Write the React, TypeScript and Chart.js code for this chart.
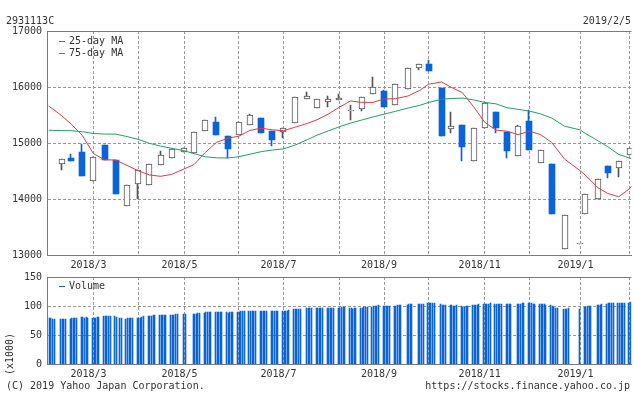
import React, { useEffect, useRef } from 'react';
import { Chart, registerables } from 'chart.js';

Chart.register(...registerables);

// ---------------- data ----------------
const symbol = '2931113C';
const asOf = '2019/2/5';

// first trading day of each weekly candle
const weekDates = [
  '2018-02-13', '2018-02-19', '2018-02-26', '2018-03-05', '2018-03-12', '2018-03-19', '2018-03-26',
  '2018-04-02', '2018-04-09', '2018-04-16', '2018-04-23', '2018-05-01', '2018-05-07', '2018-05-14',
  '2018-05-21', '2018-05-28', '2018-06-04', '2018-06-11', '2018-06-18', '2018-06-25', '2018-07-02',
  '2018-07-09', '2018-07-17', '2018-07-23', '2018-07-30', '2018-08-06', '2018-08-13', '2018-08-20',
  '2018-08-27', '2018-09-03', '2018-09-10', '2018-09-18', '2018-09-25', '2018-10-01', '2018-10-09',
  '2018-10-15', '2018-10-22', '2018-10-29', '2018-11-05', '2018-11-12', '2018-11-19', '2018-11-26',
  '2018-12-03', '2018-12-10', '2018-12-17', '2018-12-25', '2019-01-04', '2019-01-07', '2019-01-15',
  '2019-01-21', '2019-01-28', '2019-02-04',
];
const opens = [
  14620, 14730, 14840, 14315, 14965, 14695, 13870, 14260, 14245, 14600, 14730, 14840, 14820, 15210,
  15375, 15125, 15150, 15315, 15445, 15215, 15190, 15365, 15780, 15620, 15730, 15760, 15570, 15600,
  15870, 15925, 15675, 15960, 16340, 16415, 15980, 15245, 15320, 14675, 15260, 15555, 15195, 14760,
  15395, 14635, 14625, 13100, 13196, 13725, 13995, 14585, 14550, 14780,
];
const highs = [
  14715, 14805, 14980, 14745, 14965, 14695, 14250, 14510, 14620, 14865, 14895, 14905, 15190, 15405,
  15465, 15125, 15375, 15520, 15445, 15215, 15260, 15815, 15915, 15780, 15840, 15875, 15675, 15815,
  16175, 15945, 16050, 16335, 16405, 16480, 15980, 15555, 15320, 15260, 15710, 15555, 15195, 15315,
  15585, 14875, 14625, 13715, 13196, 14085, 14350, 14585, 14675, 14905,
];
const lows = [
  14525, 14685, 14415, 14315, 14690, 14095, 13870, 14000, 14245, 14600, 14730, 14840, 14820, 15210,
  15150, 14725, 15150, 15315, 15185, 14945, 15095, 15365, 15780, 15620, 15650, 15760, 15415, 15575,
  15870, 15650, 15675, 15960, 16300, 16290, 15130, 15185, 14685, 14675, 15260, 15175, 14730, 14760,
  14880, 14635, 13740, 13100, 13196, 13725, 13995, 14380, 14400, 14780,
];
const closes = [
  14715, 14685, 14415, 14745, 14700, 14095, 14250, 14510, 14620, 14780, 14895, 14905, 15190, 15405,
  15150, 14900, 15375, 15500, 15185, 15060, 15260, 15815, 15835, 15780, 15780, 15800, 15590, 15815,
  15995, 15650, 16050, 16335, 16405, 16290, 15130, 15300, 14935, 15260, 15710, 15260, 14860, 15300,
  14880, 14875, 13740, 13715, 13196, 14085, 14350, 14460, 14675, 14905,
];

// moving averages read at the start, at each weekly candle, and at the end
const maDates = ['2018-02-05', ...weekDates, '2019-02-05'];
const ma25 = [
  15660, 15490, 15340, 15135, 14810, 14700, 14696, 14600, 14505, 14430, 14405, 14440, 14540, 14615,
  14830, 15010, 15085, 15120, 15225, 15265, 15235, 15220, 15280, 15350, 15415, 15515, 15640, 15750,
  15725, 15725, 15786, 15790, 15840, 15935, 16050, 16090, 15995, 15900, 15650, 15370, 15230, 15210,
  15150, 15212, 15150, 15010, 14714, 14500, 14425, 14200, 14100, 14040, 14190, 14230,
];
const ma75 = [
  15228, 15222, 15220, 15202, 15170, 15160, 15158, 15115, 15065, 14995, 14945, 14905, 14860, 14810,
  14755, 14735, 14732, 14755, 14800, 14845, 14875, 14895, 14960, 15060, 15140, 15215, 15290, 15355,
  15410, 15465, 15515, 15565, 15625, 15670, 15725, 15780, 15795, 15802, 15770, 15725, 15700, 15630,
  15600, 15570, 15520, 15445, 15300, 15232, 15170, 15040, 14935, 14795, 14728, 14725,
];

// market holidays (weekdays without a daily value)
const holidays = [
  '2018-02-12', '2018-03-21', '2018-04-30', '2018-05-03', '2018-05-04', '2018-07-16', '2018-09-17',
  '2018-09-24', '2018-10-08', '2018-11-23', '2018-12-24', '2018-12-31', '2019-01-01', '2019-01-02',
  '2019-01-03', '2019-01-14',
];
const volumeFirstDate = '2018-02-06';
const volumeLastDate = '2019-02-05';
// daily volume (x1000), one row per week
const volumeValues = [
  79, 80, 78, 77,
  78, 78, 78, 77,
  78, 79, 79, 80, 80,
  81, 81, 80, 81, 79,
  79, 80, 80, 81, 81,
  82, 82, 82, 82, 82,
  82, 81, 80, 80,
  77, 79, 79, 80, 80,
  79, 80, 80, 81, 82,
  82, 83, 83, 84, 84,
  84, 84, 85, 84, 85,
  84, 85, 85, 86, 86,
  86, 86,
  86, 87, 87, 88, 88,
  88, 89, 89, 89, 90,
  90, 90, 90, 90, 89,
  89, 88, 89, 89, 89,
  90, 90, 91, 91, 92,
  91, 92, 92, 92, 92,
  92, 92, 91, 91, 91,
  92, 91, 91, 91, 91,
  92, 92, 92, 92, 93,
  94, 95, 95, 95, 95,
  96, 97, 97, 96,
  96, 96, 96, 96, 97,
  96, 96, 97, 97, 97,
  97, 97, 98, 98, 98,
  96, 96, 95, 96, 96,
  97, 97, 98, 98, 98,
  99, 100, 100, 100, 101,
  100, 100, 100, 100, 100,
  100, 100, 101, 101, 101,
  102, 103, 103, 103,
  104, 104, 104, 104,
  105, 105, 105, 105, 105,
  103, 102, 101, 101,
  101, 101, 100, 100, 101,
  100, 99, 99, 100, 100,
  101, 101, 102, 102, 103,
  103, 104, 104, 104, 105,
  104, 104, 104, 104, 104,
  103, 103, 103, 103,
  104, 104, 104, 105, 105,
  105, 105, 105, 104, 104,
  103, 103, 103, 103, 102,
  101, 100, 99, 97, 96,
  94, 95, 95, 96,
  94,
  98, 99, 100, 100, 100,
  101, 102, 102, 103,
  104, 105, 105, 105, 105,
  105, 105, 105, 106, 106,
  106, 107,
];

// monthly grid lines (first candle of each month) and their labels
const monthTickDates = [
  '2018-03-05', '2018-04-02', '2018-05-01', '2018-06-04', '2018-07-02', '2018-08-06',
  '2018-09-03', '2018-10-01', '2018-11-05', '2018-12-03', '2019-01-04', '2019-02-04',
];
const monthTickLabels = ['2018/3', '', '2018/5', '', '2018/7', '', '2018/9', '', '2018/11', '', '2019/1', ''];

const priceTicks = [13000, 14000, 15000, 16000, 17000];
const volumeTicks = [0, 50, 100, 150];

// ---------------- helpers ----------------
const FONT = "'DejaVu Sans Mono', monospace";
const TEXT = '#333';
const GRID = '#999';
const AXIS = '#7a7a7a';
const RED = '#e8373f';
const GREEN = '#20a261';
const BLUE = '#0a64d7';
const HOLLOW = '#555';

const START_MS = Date.UTC(2018, 1, 5);
const DAY_MS = 86400000;
const toDay = (s: string) => Math.round((Date.parse(s + 'T00:00:00Z') - START_MS) / DAY_MS);

const X_MIN = -1.09;
const X_MAX = 364.94;

function tradingDays(): number[] {
  const out: number[] = [];
  const hol = new Set(holidays.map(toDay));
  for (let d = toDay(volumeFirstDate); d <= toDay(volumeLastDate); d++) {
    const wd = new Date(START_MS + d * DAY_MS).getUTCDay();
    if (wd === 0 || wd === 6 || hol.has(d)) continue;
    out.push(d);
  }
  return out;
}

const makeX = () => ({
  type: 'linear',
  position: 'bottom',
  min: X_MIN,
  max: X_MAX,
  offset: false,
  afterBuildTicks: (s: any) => {
    s.ticks = monthTickDates.map((d) => ({ value: toDay(d) }));
  },
  afterFit: (s: any) => {
    s.height = 20;
  },
  grid: { color: GRID, lineWidth: 1, drawTicks: false, offset: false },
  border: { color: AXIS, width: 1, dash: [3, 2] },
  ticks: {
    autoSkip: false,
    maxRotation: 0,
    minRotation: 0,
    padding: 4,
    labelOffset: -5,
    color: TEXT,
    font: { family: FONT, size: 10 },
    callback: (_v: any, i: number) => monthTickLabels[i] ?? '',
  },
});

const makeY = (min: number, max: number, ticks: number[]) => ({
  type: 'linear',
  position: 'left',
  min,
  max,
  afterBuildTicks: (s: any) => {
    s.ticks = ticks.map((v) => ({ value: v }));
  },
  afterFit: (s: any) => {
    s.width = 47;
  },
  grid: { color: GRID, lineWidth: 1, drawTicks: false },
  border: { color: AXIS, width: 1, dash: [3, 2] },
  ticks: {
    padding: 5,
    color: TEXT,
    font: { family: FONT, size: 10 },
    callback: (v: any) => String(v),
  },
});

const topFrame = {
  id: 'topFrame',
  beforeDatasetsDraw(chart: any) {
    const { ctx, chartArea } = chart;
    ctx.save();
    ctx.strokeStyle = AXIS;
    ctx.lineWidth = 1;
    ctx.beginPath();
    ctx.moveTo(chartArea.left, chartArea.top + 0.5);
    ctx.lineTo(chartArea.right, chartArea.top + 0.5);
    ctx.stroke();
    ctx.restore();
  },
};

// snap bar elements (positioned by the scales) onto whole pixels for crisp bitmap-like marks
const pixelSnap = {
  id: 'pixelSnap',
  afterDatasetsUpdate(chart: any) {
    chart.data.datasets.forEach((ds: any, i: number) => {
      const mode = ds.snap;
      if (!mode) return;
      const meta = chart.getDatasetMeta(i);
      meta.data.forEach((el: any) => {
        if (mode === 'body') el.x = Math.round(el.x);
        else if (mode === 'wick') el.x = Math.round(el.x) - 0.5;
        else if (mode === 'volume') el.x = Math.floor(el.x) - 0.5;
        el.y = Math.round(el.y);
        el.base = Math.round(el.base);
      });
    });
  },
};

const baseOptions = {
  animation: false,
  responsive: false,
  maintainAspectRatio: false,
  devicePixelRatio: 1,
  events: [],
  plugins: { legend: { display: false }, tooltip: { enabled: false }, title: { display: false } },
};

function priceConfig(): any {
  const xs = weekDates.map(toDay);
  const up = opens.map((o, i) => closes[i] >= o);
  const maXs = maDates.map(toDay);
  return {
    type: 'bar',
    data: {
      datasets: [
        {
          type: 'line',
          label: '25-day MA',
          data: maXs.map((x, i) => ({ x, y: ma25[i] })),
          borderColor: RED,
          borderWidth: 1,
          pointRadius: 0,
          tension: 0,
          order: 1,
        },
        {
          type: 'line',
          label: '75-day MA',
          data: maXs.map((x, i) => ({ x, y: ma75[i] })),
          borderColor: GREEN,
          borderWidth: 1,
          pointRadius: 0,
          tension: 0,
          order: 1,
        },
        {
          type: 'bar',
          label: 'body',
          snap: 'body',
          data: xs.map((x, i) => ({ x, y: [Math.min(opens[i], closes[i]), Math.max(opens[i], closes[i])] })),
          backgroundColor: up.map((u) => (u ? '#ffffff' : BLUE)),
          borderColor: up.map((u) => (u ? HOLLOW : BLUE)),
          borderWidth: up.map((u) => (u ? 1 : 0)),
          borderSkipped: false,
          barThickness: 6,
          minBarLength: 1,
          grouped: false,
          order: 2,
        },
        {
          type: 'bar',
          label: 'wick',
          snap: 'wick',
          data: xs.map((x, i) => ({ x, y: [lows[i], highs[i]] })),
          backgroundColor: up.map((u) => (u ? HOLLOW : BLUE)),
          borderWidth: 0,
          barThickness: 1,
          grouped: false,
          order: 3,
        },
      ],
    },
    options: {
      ...baseOptions,
      layout: { padding: { left: 0, right: 2, top: 31, bottom: 119 } },
      scales: { x: makeX(), y: makeY(13000, 17000, priceTicks) },
    },
    plugins: [topFrame, pixelSnap],
  };
}

function volumeConfig(): any {
  const days = tradingDays();
  const n = Math.min(days.length, volumeValues.length);
  const data = [] as { x: number; y: number }[];
  for (let i = 0; i < n; i++) data.push({ x: days[i], y: volumeValues[i] });
  return {
    type: 'bar',
    data: {
      datasets: [
        {
          label: 'Volume',
          snap: 'volume',
          data,
          backgroundColor: BLUE,
          borderWidth: 0,
          barThickness: 1,
          grouped: false,
        },
      ],
    },
    options: {
      ...baseOptions,
      layout: { padding: { left: 0, right: 2, top: 277, bottom: 10 } },
      scales: { x: makeX(), y: makeY(0, 150, volumeTicks) },
    },
    plugins: [topFrame, pixelSnap],
  };
}

const abs = (style: React.CSSProperties): React.CSSProperties => ({
  position: 'absolute',
  lineHeight: '12px',
  whiteSpace: 'pre',
  ...style,
});

export default function App() {
  const priceRef = useRef<HTMLCanvasElement>(null);
  const volRef = useRef<HTMLCanvasElement>(null);

  useEffect(() => {
    const c1 = new Chart(priceRef.current as HTMLCanvasElement, priceConfig());
    const c2 = new Chart(volRef.current as HTMLCanvasElement, volumeConfig());
    return () => {
      c1.destroy();
      c2.destroy();
    };
  }, []);

  return (
    <div
      style={{
        position: 'absolute',
        left: 0,
        top: 0,
        width: 634,
        height: 394,
        overflow: 'hidden',
        background: '#fff',
        fontFamily: FONT,
        fontSize: 10,
        color: TEXT,
      }}
    >
      <canvas ref={priceRef} width={634} height={394} style={{ position: 'absolute', left: 0, top: 0 }} />
      <canvas ref={volRef} width={634} height={394} style={{ position: 'absolute', left: 0, top: 0 }} />

      <div style={abs({ left: 6, top: 15 })}>{symbol}</div>
      <div style={abs({ right: 3, top: 15 })}>{asOf}</div>

      <div style={{ position: 'absolute', left: 59, top: 41, width: 6, height: 1, background: RED }} />
      <div style={abs({ left: 69, top: 35 })}>25-day MA</div>
      <div style={{ position: 'absolute', left: 59, top: 53, width: 6, height: 1, background: GREEN }} />
      <div style={abs({ left: 69, top: 47 })}>75-day MA</div>

      <div style={{ position: 'absolute', left: 59, top: 286, width: 6, height: 1, background: BLUE }} />
      <div style={abs({ left: 69, top: 280 })}>Volume</div>

      <div
        style={abs({
          left: 10 - 30,
          top: 353.5 - 6,
          width: 60,
          height: 12,
          textAlign: 'center',
          transform: 'rotate(-90deg)',
        })}
      >
        (x1000)
      </div>

      <div style={abs({ left: 6, top: 380 })}>(C) 2019 Yahoo Japan Corporation.</div>
      <div style={abs({ right: 4, top: 380 })}>https://stocks.finance.yahoo.co.jp</div>
    </div>
  );
}
